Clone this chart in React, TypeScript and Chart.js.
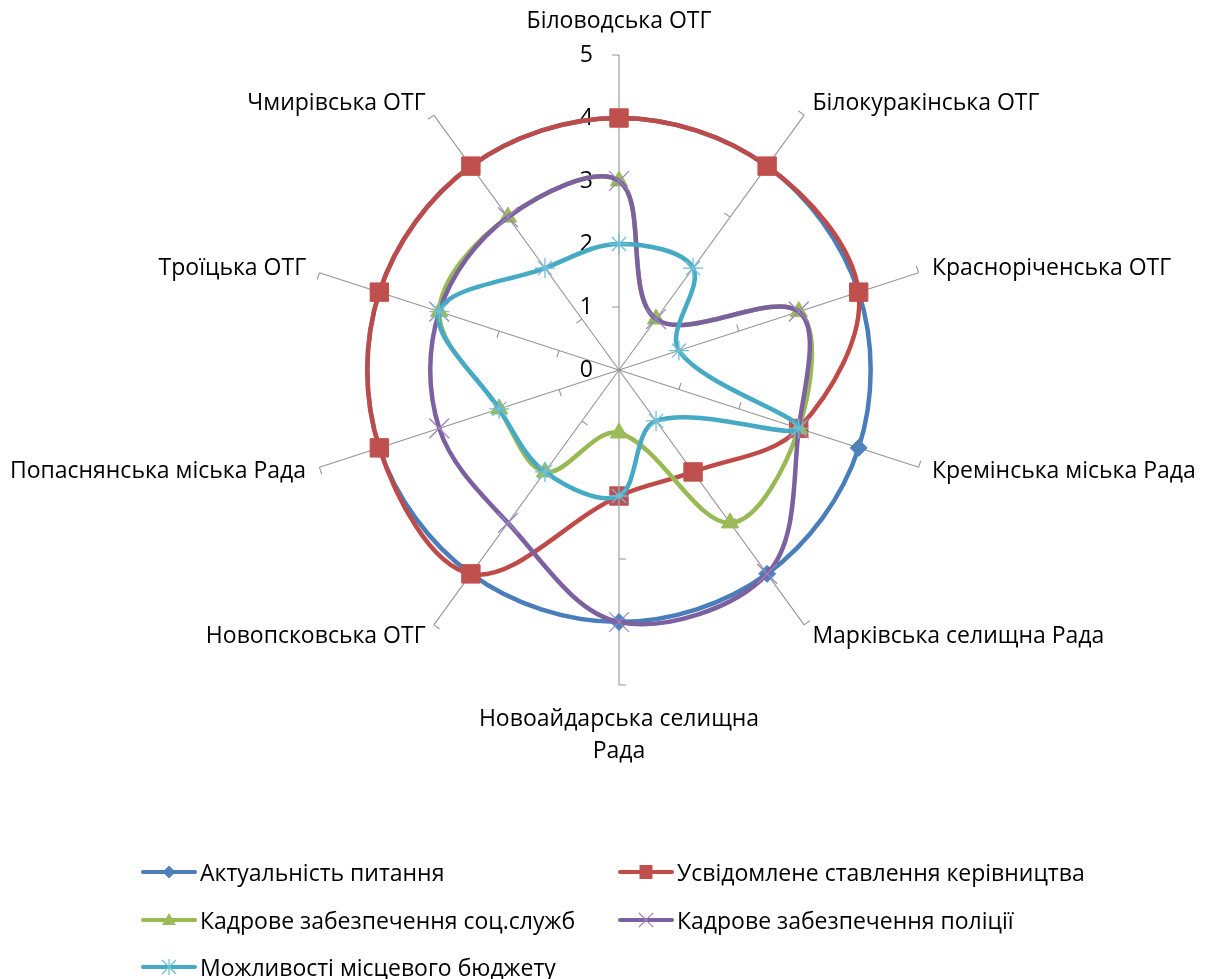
import React, { useEffect, useRef } from "react";
import { Chart, registerables } from "chart.js";

Chart.register(...registerables);

// ---------- data ----------
const categories: (string | string[])[] = [
  "Біловодська ОТГ",
  "Білокуракінська ОТГ",
  "Красноріченська ОТГ",
  "Кремінська міська Рада",
  "Марківська селищна Рада",
  ["Новоайдарська селищна", "Рада"],
  "Новопсковська ОТГ",
  "Попаснянська міська Рада",
  "Троїцька ОТГ",
  "Чмирівська ОТГ",
];

const seriesNames = [
  "Актуальність питання",
  "Усвідомлене ставлення керівництва",
  "Кадрове забезпечення соц.служб",
  "Кадрове забезпечення поліції",
  "Можливості місцевого бюджету",
];

const actualnistValues = [4, 4, 4, 4, 4, 4, 4, 4, 4, 4];
const usvidomleneValues = [4, 4, 4, 3, 2, 2, 4, 4, 4, 4];
const kadrySocValues = [3, 1, 3, 3, 3, 1, 2, 2, 3, 3];
const kadryPoliceValues = [3, 1, 3, 3, 4, 4, 3, 3, 3, 3];
const budgetValues = [2, 2, 1, 3, 1, 2, 2, 2, 3, 2];

const tickValues = [0, 1, 2, 3, 4, 5];
const tickLabels = ["0", "1", "2", "3", "4", "5"];

// ---------- styles ----------
const FONT_FAMILY = "'Open Sans', 'DejaVu Sans', sans-serif";
const FONT_SIZE = 23;
const AXIS_COLOR = "#959595";
const lineColors = ["#4A7EBB", "#BE4B48", "#98B954", "#7D60A0", "#46AAC5"];
const markerColors = ["#4F81BD", "#C0504D", "#9BBB59", "#9A86C2", "#6EC0D6"];
const pointStyles = ["rectRot", "rect", "triangle", "crossRot", "star"];
const pointRadii = [8.5, 13, 10, 14, 10];

const radarDecorPlugin = {
  id: "radarDecor",
  beforeDatasetsDraw(chart: any) {
    const scale = chart.scales.r;
    const ctx = chart.ctx as CanvasRenderingContext2D;
    const labels = chart.data.labels as (string | string[])[];
    const n = labels.length;
    ctx.save();
    // small tick marks on each spoke
    ctx.strokeStyle = AXIS_COLOR;
    ctx.lineWidth = 1.1;
    ctx.beginPath();
    for (let i = 0; i < n; i++) {
      const a = scale.getIndexAngle(i);
      const tx = -Math.cos(a);
      const ty = -Math.sin(a);
      for (const v of tickValues) {
        if (v === 0) continue;
        const p = scale.getPointPositionForValue(i, v);
        ctx.moveTo(p.x, p.y);
        ctx.lineTo(p.x + tx * 7, p.y + ty * 7);
      }
    }
    ctx.stroke();

    // value labels along the top spoke
    ctx.fillStyle = "#000";
    ctx.font = `${FONT_SIZE}px ${FONT_FAMILY}`;
    ctx.textAlign = "right";
    ctx.textBaseline = "middle";
    tickValues.forEach((v, k) => {
      const p = scale.getPointPositionForValue(0, v);
      ctx.fillText(tickLabels[k], p.x - 26, p.y);
    });

    // category labels
    const lineH = 32;
    for (let i = 0; i < n; i++) {
      const lab = labels[i];
      const lines = Array.isArray(lab) ? lab : [lab];
      const a = scale.getIndexAngle(i);
      const s = Math.sin(a);
      const c = Math.cos(a);
      if (Math.abs(s) < 1e-3) {
        const p = scale.getPointPosition(i, scale.drawingArea + 34);
        ctx.textAlign = "center";
        if (c > 0) {
          lines.forEach((t, k) => ctx.fillText(t, p.x, p.y - (lines.length - 1 - k) * lineH));
        } else {
          lines.forEach((t, k) => ctx.fillText(t, p.x, p.y + k * lineH));
        }
      } else {
        const p = scale.getPointPosition(i, scale.drawingArea + 14);
        ctx.textAlign = s > 0 ? "left" : "right";
        const y0 = p.y - ((lines.length - 1) * lineH) / 2;
        lines.forEach((t, k) => ctx.fillText(t, p.x, y0 + k * lineH));
      }
    }
    ctx.restore();
  },
};

function LegendMarker({ k }: { k: number }) {
  const c = markerColors[k];
  const lc = lineColors[k];
  const cx = 29;
  const cy = 11;
  let marker: any = null;
  switch (pointStyles[k]) {
    case "rectRot":
      marker = <polygon points={`${cx},${cy - 6.5} ${cx + 6.5},${cy} ${cx},${cy + 6.5} ${cx - 6.5},${cy}`} fill={c} />;
      break;
    case "rect":
      marker = <rect x={cx - 6.5} y={cy - 7} width={13} height={14} fill={c} />;
      break;
    case "triangle":
      marker = <polygon points={`${cx},${cy - 7} ${cx + 7},${cy + 5} ${cx - 7},${cy + 5}`} fill={c} />;
      break;
    case "crossRot":
      marker = (
        <g stroke={c} strokeWidth={1.2}>
          <line x1={cx - 7} y1={cy - 7} x2={cx + 7} y2={cy + 7} />
          <line x1={cx - 7} y1={cy + 7} x2={cx + 7} y2={cy - 7} />
        </g>
      );
      break;
    case "star":
      marker = (
        <g stroke={c} strokeWidth={1.2}>
          <line x1={cx - 7} y1={cy - 7} x2={cx + 7} y2={cy + 7} />
          <line x1={cx - 7} y1={cy + 7} x2={cx + 7} y2={cy - 7} />
          <line x1={cx} y1={cy - 8} x2={cx} y2={cy + 8} />
        </g>
      );
      break;
  }
  return (
    <svg width={58} height={22} style={{ display: "block", flex: "none" }}>
      <line x1={3} y1={cy} x2={55} y2={cy} stroke={lc} strokeWidth={4} strokeLinecap="round" />
      {marker}
    </svg>
  );
}

const legendColumnsX = [140, 617];
const legendRowsBaseline = [881, 929, 976];

export default function App() {
  const canvasRef = useRef<HTMLCanvasElement | null>(null);

  useEffect(() => {
    if (!canvasRef.current) return;
    const seriesValues = [actualnistValues, usvidomleneValues, kadrySocValues, kadryPoliceValues, budgetValues];
    const chart = new Chart(canvasRef.current, {
      type: "radar",
      data: {
        labels: categories as any,
        datasets: seriesNames.map((name, k) => ({
          label: name,
          data: seriesValues[k],
          borderColor: lineColors[k],
          backgroundColor: markerColors[k],
          borderWidth: 4.5,
          fill: false,
          tension: 0.35,
          pointStyle: pointStyles[k] as any,
          pointRadius: pointRadii[k],
          pointHoverRadius: pointRadii[k],
          pointBackgroundColor: markerColors[k],
          pointBorderColor: markerColors[k],
          pointBorderWidth: k >= 3 ? 1.3 : 1,
          order: 5 - k,
        })),
      },
      options: {
        responsive: false,
        animation: false,
        layout: { padding: { left: 30, right: 0, top: 55, bottom: 294 } },
        plugins: { legend: { display: false }, tooltip: { enabled: false } },
        scales: {
          r: {
            min: 0,
            max: 5,
            ticks: { display: false, stepSize: 1 },
            grid: { display: false },
            angleLines: { display: true, color: AXIS_COLOR, lineWidth: 1.1 },
            pointLabels: { display: false },
          },
        },
      },
      plugins: [radarDecorPlugin],
    });
    return () => chart.destroy();
  }, []);

  return (
    <div style={{ position: "relative", width: 1208, height: 979, overflow: "hidden", background: "#fff" }}>
      <style>{`html,body{margin:0;padding:0;overflow:hidden;background:#fff;}`}</style>
      <canvas ref={canvasRef} width={1208} height={979} style={{ position: "absolute", left: 0, top: 0 }} />
      {seriesNames.map((name, k) => {
        const col = k % 2;
        const row = Math.floor(k / 2);
        return (
          <div
            key={name}
            style={{
              position: "absolute",
              left: legendColumnsX[col],
              top: legendRowsBaseline[row] - 24.5,
              height: 31,
              display: "flex",
              alignItems: "center",
              whiteSpace: "nowrap",
              fontFamily: FONT_FAMILY,
              fontSize: FONT_SIZE,
              lineHeight: "31px",
              color: "#000",
            }}
          >
            <LegendMarker k={k} />
            <span style={{ marginLeft: 2 }}>{name}</span>
          </div>
        );
      })}
    </div>
  );
}
